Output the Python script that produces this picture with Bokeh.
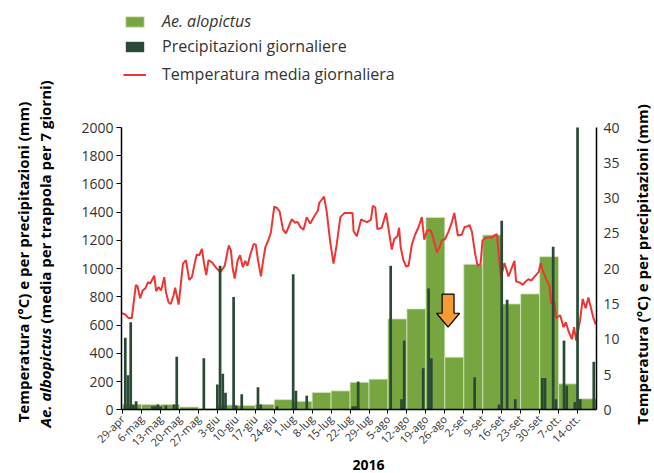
import math
from bokeh.plotting import figure
from bokeh.models import Range1d, LinearAxis, FixedTicker, Label, Legend, LegendItem
from bokeh.embed import file_html
from bokeh.resources import INLINE

# ---------------- data ----------------
# x axis: days since 29 April 2016
tick_days = [0, 7, 14, 21, 28, 35, 42, 49, 56, 63, 70, 77, 84, 91, 98, 105,
             112, 119, 126, 133, 140, 147, 154, 161, 168]
tick_labels = ["29-apr", "6-mag", "13-mag", "20-mag", "27-mag", "3-giu", "10-giu",
               "17-giu", "24-giu", "1-lug", "8-lug", "15-lug", "22-lug", "29-lug",
               "5-ago", "12-ago", "19-ago", "26-ago", "2-set", "9-set", "16-set",
               "23-set", "30-set", "7-ott.", "14-ott."]

# Ae. albopictus: weekly mean per trap (week starting at each tick)
week_start = tick_days
albopictus = [40, 38, 38, 20, 8, 34, 31, 39, 72, 60, 123, 134, 195, 217,
              644, 715, 1363, 373, 1031, 1238, 750, 821, 1085, 184, 78]

# daily precipitation (mm)
rain_day = [1, 2, 3, 4, 5, 11, 12, 13, 14, 16, 19, 20, 30, 35, 36, 37, 38, 41, 42,
            44, 50, 51, 57, 63, 64, 68, 85, 86, 87, 99, 103, 104, 111, 113, 114,
            130, 139, 140, 142, 145, 155, 156, 159, 160, 163, 164, 167, 168, 169, 174]
rain_mm = [10.2, 4.9, 12.4, 0.7, 1.2, 0.5, 0.5, 0.75, 0.5, 0.6, 0.75, 7.5, 7.3, 3.6,
           20.4, 5.1, 2.4, 16.0, 0.6, 2.2, 3.2, 0.75, 0.5, 19.2, 2.7, 2.0, 0.5, 0.5,
           4.0, 20.4, 1.5, 9.8, 5.9, 17.2, 7.3, 4.6, 0.75, 26.8, 15.6, 1.5, 4.5, 4.5,
           23.1, 1.5, 9.8, 3.4, 1.1, 40.0, 1.5, 6.8]

# daily mean temperature (°C), read at the line's vertices
temp_day = [-0.3, 1.0, 2.2, 3.4, 4.9, 5.5, 6.5, 7.4, 8.4, 9.4, 10.2, 11.7, 12.4, 13.3,
            14.2, 15.4, 16.0, 17.0, 17.8, 18.8, 19.4, 20.7, 22.3, 23.4, 24.6, 25.6,
            26.6, 27.4, 28.3, 29.3, 30.1, 30.9, 31.7, 33.0, 34.8, 36.1, 37.7, 39.2,
            40.0, 40.6, 41.4, 42.5, 43.4, 44.4, 45.3, 46.1, 47.1, 48.4, 49.2, 50.0,
            51.1, 51.8, 52.7, 53.9, 54.8, 56.0, 57.0, 58.0, 59.2, 60.3, 61.3, 62.5,
            63.7, 64.7, 65.6, 66.8, 68.0, 69.3, 70.9, 72.1, 72.6, 73.6, 74.4, 75.4,
            76.7, 77.9, 79.1, 80.4, 82.0, 83.4, 84.9, 85.3, 86.5, 88.1, 88.9, 90.2,
            91.7, 92.4, 93.3, 94.1, 95.7, 97.3, 99.4, 100.3, 101.5, 102.1, 102.7,
            103.7, 104.7, 105.6, 106.8, 108.0, 109.3, 110.5, 111.4, 112.4, 113.8,
            114.8, 116.1, 117.0, 117.9, 119.1, 120.3, 121.6, 122.5, 123.8, 125.2,
            126.3, 127.5, 128.1, 129.0, 130.2, 131.1, 132.2, 132.9, 133.9, 135.1,
            136.3, 137.3, 138.2, 139.0, 139.7, 141.0, 142.5, 144.7, 145.3, 146.8,
            147.8, 148.6, 149.9, 150.9, 151.7, 153.6, 154.4, 155.2, 156.4, 157.6,
            158.2, 159.5, 160.1, 161.6, 162.8, 163.7, 164.6, 165.9, 166.7, 167.5,
            168.9, 169.9, 171.0, 172.0, 173.8, 174.7]
temp_val = [13.7, 13.5, 13.0, 13.0, 17.7, 17.5, 15.8, 16.9, 17.2, 18.1, 17.9, 19.0, 16.8,
            17.4, 16.9, 18.8, 16.7, 15.2, 15.0, 16.2, 17.3, 14.9, 20.7, 21.2, 18.4, 18.8,
            20.7, 22.0, 21.9, 22.8, 20.7, 19.1, 21.2, 20.9, 20.0, 19.5, 20.4, 23.3, 22.6,
            20.2, 18.6, 21.2, 21.9, 20.2, 21.1, 20.4, 21.9, 23.5, 23.4, 21.2, 18.9, 20.9,
            23.0, 24.1, 25.2, 28.8, 28.6, 28.1, 25.6, 25.0, 25.9, 27.0, 26.5, 26.6, 25.9,
            25.5, 27.3, 26.4, 27.5, 28.2, 29.3, 29.8, 30.2, 28.0, 23.7, 20.7, 23.5, 27.3,
            27.9, 27.9, 27.9, 25.3, 24.6, 27.0, 26.8, 26.6, 26.9, 28.9, 28.7, 25.6, 25.8,
            27.9, 22.7, 24.2, 24.6, 25.8, 23.0, 21.2, 20.3, 20.4, 23.4, 24.8, 25.9, 27.3,
            24.1, 25.4, 25.4, 24.2, 22.3, 23.0, 24.0, 24.2, 25.2, 26.6, 27.9, 24.7, 24.8,
            25.9, 26.0, 26.2, 25.2, 22.1, 20.4, 20.7, 24.0, 24.3, 24.4, 24.4, 24.7, 24.9,
            21.6, 18.8, 20.8, 18.9, 21.1, 18.2, 18.0, 17.7, 18.1, 18.5, 18.3, 18.7, 19.5,
            20.8, 19.7, 18.5, 17.6, 15.1, 15.1, 13.0, 13.4, 11.7, 12.4, 11.2, 10.0, 11.7,
            9.8, 12.6, 15.7, 14.4, 15.9, 13.1, 12.1]

left_ticks = list(range(0, 2001, 200))
right_ticks = list(range(0, 41, 5))
LEFT_MAX, RIGHT_MAX = 2000, 40
X_FIRST, X_LAST = -0.4, 175.0

# annotation arrow (day, top, neck, tip in left-axis units)
arrow_day, arrow_top, arrow_neck, arrow_tip = 120.2, 819, 684, 585
arrow_shaft_half, arrow_head_half = 2.2, 4.25

# ---------------- layout (pixels) ----------------
W, H = 654, 473
PX_LEFT, PX_RIGHT = 121, 596      # axis positions
PY_TOP, PY_ZERO = 127, 409.3      # y of 2000 and of 0 (from the top)

xs = (PX_RIGHT - PX_LEFT) / (X_LAST - X_FIRST)          # px per day
ys = (PY_ZERO - PY_TOP) / LEFT_MAX                      # px per unit
x_start = X_FIRST - PX_LEFT / xs
x_end = X_LAST + (W - PX_RIGHT) / xs
y_start = -(H - PY_ZERO) / ys
y_end = LEFT_MAX + PY_TOP / ys
k = RIGHT_MAX / LEFT_MAX

def dx(px):
    return x_start + px / xs

def dy(py):
    return y_end - py / ys

GREEN = "#77a53f"
DARK = "#2b4a36"
RED = "#ee3535"
ORANGE = "#f59a35"
FONT = "Open Sans"
TXT = "#333333"

p = figure(width=W, height=H, x_range=Range1d(x_start, x_end), y_range=Range1d(y_start, y_end),
           output_backend="svg", toolbar_location=None, min_border=0)
p.extra_y_ranges = {"r": Range1d(y_start * k, y_end * k)}
p.xgrid.visible = False
p.ygrid.visible = False
p.outline_line_color = None
p.background_fill_color = "white"
p.border_fill_color = "white"

wk_center = [d + 3.5 for d in week_start]
r_green = p.vbar(x=wk_center, width=7, top=albopictus, bottom=0,
                 fill_color=GREEN, line_color="#d6e5c2", line_width=1, line_alpha=0.8)
r_temp = p.line(x=temp_day, y=temp_val, y_range_name="r", line_color=RED, line_width=2)
r_rain = p.vbar(x=rain_day, width=1.0, top=rain_mm, bottom=0, y_range_name="r",
                fill_color=DARK, line_color=None)

ax_x = [arrow_day - arrow_shaft_half, arrow_day + arrow_shaft_half, arrow_day + arrow_shaft_half,
        arrow_day + arrow_head_half, arrow_day, arrow_day - arrow_head_half,
        arrow_day - arrow_shaft_half]
ax_y = [arrow_top, arrow_top, arrow_neck, arrow_neck, arrow_tip, arrow_neck, arrow_neck]
p.patch(ax_x, ax_y, fill_color=ORANGE, line_color="black", line_width=1.2)

# axes (fixed at the data edges so annotations can sit outside the data area)
xa = p.xaxis[0]
xa.fixed_location = 0
xa.bounds = (X_FIRST, X_LAST)
xa.ticker = FixedTicker(ticks=tick_days)
xa.major_label_overrides = {d: l for d, l in zip(tick_days, tick_labels)}
xa.major_label_orientation = math.pi / 4
xa.major_label_text_font = FONT
xa.major_label_text_font_size = "11px"
xa.major_label_text_color = TXT
xa.major_tick_in = 0
xa.major_tick_out = 4
xa.minor_tick_line_color = None
xa.axis_line_color = "black"
xa.axis_line_width = 1.5
xa.major_label_standoff = 3

ya = p.yaxis[0]
ya.fixed_location = X_FIRST
ya.bounds = (0, LEFT_MAX)
ya.ticker = FixedTicker(ticks=left_ticks)
ya.major_label_text_font = FONT
ya.major_label_text_font_size = "14px"
ya.major_label_text_color = TXT
ya.major_tick_in = 0
ya.major_tick_out = 5
ya.minor_tick_line_color = None
ya.axis_line_color = "black"
ya.axis_line_width = 1.5
ya.major_label_standoff = 3

ra = LinearAxis(y_range_name="r", ticker=FixedTicker(ticks=right_ticks),
                fixed_location=X_LAST, bounds=(0, RIGHT_MAX))
ra.major_label_text_font = FONT
ra.major_label_text_font_size = "14px"
ra.major_label_text_color = TXT
ra.major_tick_in = 0
ra.major_tick_out = 0
ra.minor_tick_line_color = None
ra.axis_line_color = "black"
ra.axis_line_width = 1.5
ra.major_label_standoff = 7
p.add_layout(ra, "right")

# axis titles as labels
def lab(px, py, text, angle=0.0, align="center", style="bold", size="15px"):
    p.add_layout(Label(x=dx(px), y=dy(py), text=text, angle=angle, text_align=align,
                       text_baseline="middle", text_font=FONT, text_font_size=size,
                       text_font_style=style, text_color="black"))

lab(22, 261.5, "Temperatura (°C) e per precipitazioni (mm)", angle=math.pi / 2)
lab(44, 427, "Ae. albopictus", angle=math.pi / 2, align="left", style="bold italic")
lab(44, 323, "(media per trappola per 7 giorni)", angle=math.pi / 2, align="left")
lab(641, 264, "Temperatura (°C) e per precipitazioni (mm)", angle=math.pi / 2)
lab(368, 464, "2016", size="14px")

# legends (location = bottom-left corner, pixels up from the bottom of the canvas)
def mk_legend(items, bottom_py, style, spacing=6):
    lg = Legend(items=items, location=(123, H - bottom_py), orientation="vertical",
                glyph_width=23, glyph_height=13, label_height=13, spacing=spacing,
                label_standoff=16, padding=0, margin=0,
                border_line_color=None, background_fill_alpha=0,
                label_text_font=FONT, label_text_font_size="16px",
                label_text_color=TXT, label_text_font_style=style)
    p.add_layout(lg, "center")

mk_legend([LegendItem(label="Ae. alopictus", renderers=[r_green])], 32, "italic")
mk_legend([LegendItem(label="Precipitazioni giornaliere", renderers=[r_rain]),
           LegendItem(label="Temperatura media giornaliera", renderers=[r_temp])], 85, "normal")

open("out.html", "w").write(file_html(p, INLINE))
